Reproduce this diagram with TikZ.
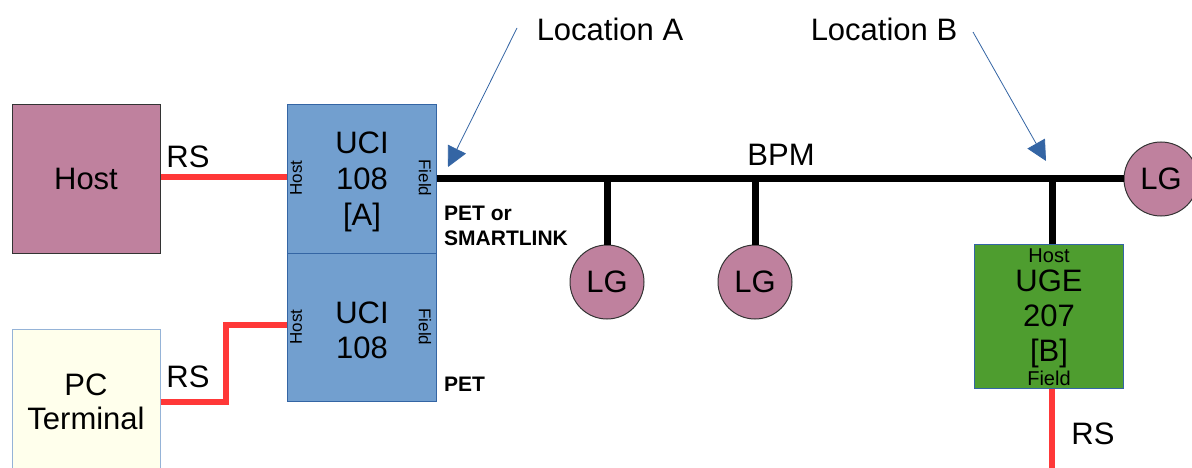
\documentclass[tikz,border=0pt]{standalone}
\usepackage{fontspec}
\setmainfont{Liberation Sans}
\usetikzlibrary{arrows.meta}
\definecolor{mauve}{HTML}{BF819E}
\definecolor{ucifill}{HTML}{729FCF}
\definecolor{uciline}{HTML}{3465A4}
\definecolor{ugefill}{HTML}{4E9D2F}
\definecolor{pcfill}{HTML}{FFFFEC}
\definecolor{pcline}{HTML}{95B3D7}
\definecolor{rsred}{HTML}{FF3838}
\tikzset{
  big/.style={font=\fontsize{31}{35}\selectfont},
  boxbase/.style={rectangle, inner sep=0pt, align=center, big},
  hostbox/.style={boxbase, fill=mauve, draw=black!80, line width=1pt},
  ucibox/.style={boxbase, fill=ucifill, draw=uciline, line width=1pt},
  ugebox/.style={boxbase, fill=ugefill, draw=uciline, line width=1pt},
  pcbox/.style={boxbase, fill=pcfill, draw=pcline, line width=1pt, font=\fontsize{31}{34}\selectfont},
  lgnode/.style={circle, fill=mauve, draw=black!80, line width=1pt, minimum size=74pt, inner sep=0pt, big},
  port/.style={font=\fontsize{17}{19}\selectfont, inner sep=0pt},
  bigport/.style={font=\fontsize{20}{22}\selectfont, inner sep=0pt},
  lbl/.style={big, inner sep=0pt},
  boldlbl/.style={font=\fontsize{21}{25}\selectfont\bfseries, inner sep=0pt, align=left},
  rsline/.style={rsred, line width=6.5pt},
  busline/.style={black, line width=7pt},
  locarrow/.style={uciline, line width=0.8pt, -{Triangle[length=20pt,width=20pt]}},
}
\begin{document}
\begin{tikzpicture}[x=1pt,y=-1pt]
\clip (0,0) rectangle (1192,468);
\fill[white] (0,0) rectangle (1192,468);

% boxes
\node[hostbox, minimum width=148pt, minimum height=149pt] (host) at (86,179) {Host};
\node[pcbox, minimum width=148pt, minimum height=146pt] (pc) at (86,402) {PC\\Terminal};
\node[ucibox, minimum width=149pt, minimum height=149pt] (uciA) at (361.5,179) {};
\node[ucibox, minimum width=149pt, minimum height=148pt] (uciB) at (361.5,327) {};
\node[big, align=center, inner sep=0pt, font=\fontsize{31}{36}\selectfont] (uciAtxt) at (362,182) {UCI\\108\\{[A]}};
\node[big, align=center, inner sep=0pt] (uciBtxt) at (362,330) {UCI\\108};
\node[port, rotate=90] (uciAhost) at (296,178) {Host};
\node[port, rotate=-90] (uciAfield) at (425,178) {Field};
\node[port, rotate=90] (uciBhost) at (296,327) {Host};
\node[port, rotate=-90] (uciBfield) at (425,327) {Field};

\node[ugebox, minimum width=149pt, minimum height=144pt] (uge) at (1048.5,316) {};
\node[big, align=center, inner sep=0pt] (ugetxt) at (1049,319) {UGE\\207\\{[B]}};
\node[bigport] (ugehost) at (1049,256) {Host};
\node[bigport] (ugefield) at (1049,378) {Field};

% LG nodes
\node[lgnode] (lg1) at (607,282) {LG};
\node[lgnode] (lg2) at (755,282) {LG};
\node[lgnode] (lgR) at (1161,179) {LG};

% coordinates
\coordinate (t1) at (607,179);
\coordinate (t2) at (755,179);
\coordinate (t3) at (1052,179);
\coordinate (bend) at (226,0);
\coordinate (bot) at (1052,475);

% red RS lines
\draw[rsline] ([yshift=2pt]host.east) -- ([yshift=2pt]uciA.west);
\draw[rsline] (pc.east) -| (bend |- 0,325) -- (uciB.west |- 0,325);
\draw[rsline] (t3 |- uge.south) -- (bot);

% bus
\draw[busline] (uciA.east) -- (lgR.west);
\draw[busline] (t1) -- (lg1.north);
\draw[busline] (t2) -- (lg2.north);
\draw[busline] (t3) -- (t3 |- uge.north);

% labels
\node[lbl] (rs1) at (188,157) {RS};
\node[lbl] (rs2) at (188,377) {RS};
\node[lbl] (rs3) at (1093,434) {RS};
\node[lbl] (bpm) at (781,155) {BPM};
\node[boldlbl, anchor=west] (petsl) at (444,226) {PET or\\SMARTLINK};
\node[boldlbl, anchor=west] (pet) at (444,384) {PET};

% locations
\node[lbl] (locA) at (610,29) {Location A};
\node[lbl] (locB) at (884,29) {Location B};
\coordinate (aS) at (517,28);
\coordinate (aT) at (448,167);
\coordinate (bS) at (973,32);
\coordinate (bT) at (1046,161);
\draw[locarrow] (aS) -- (aT);
\draw[locarrow] (bS) -- (bT);
\end{tikzpicture}
\end{document}
